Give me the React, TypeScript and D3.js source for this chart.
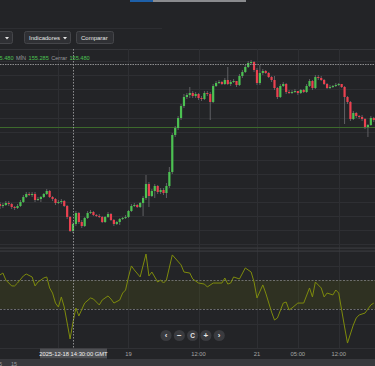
import React, { useEffect, useRef } from 'react';
import * as d3 from 'd3';

// 30 minute candles, first slot = 2025-12-18 02:00 GMT
const firstOpen = 155.56;
const closes = [
  155.54, 155.55, 155.57, 155.56, 155.53, 155.52, 155.54, 155.58, 155.63, 155.66,
  155.65, 155.66, 155.60, 155.61, 155.63, 155.66, 155.69, 155.63, 155.61, 155.57,
  155.58, 155.59, 155.54, 155.43, 155.29, 155.36, 155.47, 155.38, 155.34, 155.42,
  155.47, 155.48, 155.45, 155.44, 155.43, 155.38, 155.43, 155.46, 155.40, 155.36,
  155.38, 155.41, 155.42, 155.43, 155.49, 155.54, 155.55, 155.53, 155.57, 155.62,
  155.76, 155.64, 155.69, 155.74, 155.68, 155.70, 155.67, 155.74, 155.88, 156.25,
  156.32, 156.42, 156.54, 156.63, 156.65, 156.67, 156.64, 156.66, 156.62, 156.61,
  156.67, 156.66, 156.58, 156.74, 156.77, 156.78, 156.76, 156.80, 156.76, 156.78,
  156.79, 156.75, 156.84, 156.88, 156.93, 156.97, 156.98, 156.90, 156.77, 156.87,
  156.89, 156.87, 156.83, 156.80, 156.72, 156.63, 156.74, 156.76, 156.68, 156.67,
  156.68, 156.69, 156.67, 156.70, 156.68, 156.74, 156.79, 156.72, 156.83, 156.82,
  156.80, 156.76, 156.72, 156.73, 156.74, 156.75, 156.76, 156.73, 156.63, 156.58,
  156.41, 156.47, 156.44, 156.43, 156.41, 156.33, 156.35, 156.42, 156.40,
];
const highs = [
  155.58, 155.57, 155.59, 155.59, 155.57, 155.54, 155.56, 155.60, 155.65, 155.68,
  155.68, 155.68, 155.68, 155.63, 155.64, 155.67, 155.71, 155.70, 155.64, 155.62,
  155.60, 155.61, 155.60, 155.55, 155.44, 155.38, 155.49, 155.48, 155.40, 155.43,
  155.49, 155.50, 155.49, 155.46, 155.46, 155.44, 155.44, 155.48, 155.47, 155.41,
  155.39, 155.42, 155.43, 155.45, 155.50, 155.56, 155.57, 155.56, 155.58, 155.64,
  155.85, 155.78, 155.71, 155.76, 155.75, 155.72, 155.72, 155.77, 155.93, 156.27,
  156.34, 156.44, 156.56, 156.66, 156.67, 156.73, 156.69, 156.68, 156.67, 156.64,
  156.69, 156.69, 156.68, 156.76, 156.79, 156.80, 156.79, 156.82, 156.93, 156.80,
  156.81, 156.79, 156.86, 156.90, 156.95, 156.99, 157.00, 156.99, 156.92, 156.95,
  156.91, 156.90, 156.88, 156.84, 156.84, 156.73, 156.76, 156.78, 156.77, 156.70,
  156.70, 156.71, 156.69, 156.71, 156.71, 156.76, 156.81, 156.80, 156.85, 156.85,
  156.84, 156.81, 156.77, 156.75, 156.75, 156.77, 156.77, 156.76, 156.74, 156.64,
  156.59, 156.49, 156.48, 156.45, 156.45, 156.42, 156.36, 156.44, 156.43,
];
const lows = [
  155.51, 155.52, 155.54, 155.54, 155.51, 155.50, 155.51, 155.53, 155.57, 155.62,
  155.64, 155.63, 155.58, 155.59, 155.58, 155.62, 155.65, 155.62, 155.59, 155.55,
  155.56, 155.56, 155.53, 155.41, 155.28, 155.27, 155.34, 155.36, 155.32, 155.33,
  155.41, 155.46, 155.44, 155.43, 155.42, 155.37, 155.37, 155.42, 155.39, 155.34,
  155.35, 155.35, 155.40, 155.41, 155.42, 155.48, 155.53, 155.52, 155.52, 155.44,
  155.60, 155.53, 155.63, 155.62, 155.66, 155.66, 155.65, 155.62, 155.72, 155.86,
  156.23, 156.30, 156.40, 156.52, 156.61, 156.62, 156.62, 156.62, 156.60, 156.59,
  156.60, 156.64, 156.40, 156.57, 156.73, 156.76, 156.75, 156.75, 156.75, 156.74,
  156.77, 156.73, 156.74, 156.82, 156.87, 156.92, 156.96, 156.88, 156.75, 156.75,
  156.85, 156.86, 156.82, 156.78, 156.70, 156.61, 156.62, 156.73, 156.66, 156.66,
  156.66, 156.67, 156.65, 156.66, 156.67, 156.67, 156.73, 156.70, 156.71, 156.80,
  156.79, 156.75, 156.71, 156.71, 156.72, 156.73, 156.74, 156.72, 156.36, 156.56,
  156.39, 156.40, 156.42, 156.41, 156.39, 156.31, 156.23, 156.34, 156.38,
];

const lastPrice = 156.33;
const crossPrice = 156.96;
const hoverTime = '2025-12-18T14:30:00Z';
const hoverLabel = '2025-12-18 14:30:00 GMT';

// CCI style oscillator, read per candle slot
const oscSlots = [
  0, 1, 2, 4, 5, 6, 8, 9, 11, 12, 13, 15, 16, 17, 18, 19, 20, 21, 22, 24,
  25, 26, 27, 29, 31, 32, 34, 35, 37, 38, 39, 41, 42, 43, 44, 45, 46, 48, 50, 51,
  52, 54, 55, 56, 57, 59, 62, 63, 65, 66, 68, 70, 71, 73, 76, 77, 78, 79, 80, 82,
  84, 86, 87, 88, 90, 91, 93, 94, 95, 97, 98, 99, 100, 102, 104, 106, 107, 108, 110, 111,
  112, 114, 115, 116, 117, 118, 119, 121, 122, 123, 125, 127, 128,
];
const oscValues = [
  135, 148, 100, 59, 59, 79, 128, 141, 121, 59, 86, 114, 121, 45, 10, -59, -86, -17, -86, -307,
  -190, -93, -148, -59, -24, -31, -72, -38, -10, -31, -59, -38, 10, 31, 121, 197, 169, 121, 279, 128,
  155, 86, 100, 79, 100, 273, 204, 155, 148, 107, 79, 72, 52, 79, 79, 114, 72, 79, 121, 107,
  183, 155, 86, -24, 66, 10, -121, -176, -162, -59, -52, -107, -93, -59, -59, 45, -17, 86, 45, -17,
  10, -3, 31, 10, -107, -224, -335, -210, -162, -141, -128, -72, -59,
];
const oscBand = [-100, 100];

const tickTimes = [
  '2025-12-18T12:00:00Z', '2025-12-19T00:00:00Z', '2025-12-19T12:00:00Z',
  '2025-12-21T22:00:00Z', '2025-12-22T05:00:00Z', '2025-12-22T12:00:00Z',
];
const tickLabels = ['12:00', '19', '12:00', '21', '05:00', '12:00'];

const seriesStart = Date.UTC(2025, 11, 18, 2, 0);
const fridayClose = Date.UTC(2025, 11, 19, 22, 0);
const sundayOpen = Date.UTC(2025, 11, 21, 22, 0);
const slotMs = 30 * 60 * 1000;

function slotOf(iso) {
  const t = new Date(iso).getTime();
  if (t < fridayClose) return (t - seriesStart) / slotMs;
  return (fridayClose - seriesStart) / slotMs + (t - sundayOpen) / slotMs;
}

const W = 375;
const H = 366;
const font = '"Liberation Sans", Arial, sans-serif';

const App = () => {
  const svgRef = useRef(null);

  useEffect(() => {
    const svg = d3.select(svgRef.current);
    svg.selectAll('*').remove();

    const bg = '#232427';
    const gridColor = '#2e2f33';
    const up = '#4cc152';
    const down = '#ea4150';

    svg.append('rect').attr('width', W).attr('height', H).attr('fill', bg);

    // scales
    const x = d3.scaleLinear().domain([0, 128.42]).range([0, W]);
    const y = d3.scaleLinear().domain([157.6, 155.0]).range([0, 260]);
    const yo = d3.scaleLinear().domain([-400, 400]).range([352.5, 236.5]);

    const mainTop = 49;
    const mainBottom = 247;
    const oscTop = 252;
    const oscBottom = 348;

    svg.append('defs').append('clipPath').attr('id', 'mainclip')
      .append('rect').attr('x', 0).attr('y', mainTop).attr('width', W).attr('height', mainBottom - mainTop);
    svg.select('defs').append('clipPath').attr('id', 'oscclip')
      .append('rect').attr('x', 0).attr('y', oscTop).attr('width', W).attr('height', oscBottom - oscTop);

    // top scroll strip
    svg.append('rect').attr('x', 130).attr('y', 0).attr('width', 23).attr('height', 2).attr('fill', '#1d5fa8');
    svg.append('rect').attr('x', 153).attr('y', 0).attr('width', 93).attr('height', 2).attr('fill', '#8a8b8e');
    svg.append('line').attr('x1', 0).attr('x2', 162).attr('y1', 28.5).attr('y2', 28.5).attr('stroke', '#2d2e32');

    // toolbar buttons
    const buttons = [
      { x: -4, w: 16, label: '' },
      { x: 24, w: 46, label: 'Indicadores' },
      { x: 76, w: 37, label: 'Comparar' },
    ];
    buttons.forEach((b, i) => {
      svg.append('rect').attr('x', b.x + 0.5).attr('y', 31.5).attr('width', b.w).attr('height', 12).attr('rx', 2)
        .attr('fill', '#2f3034').attr('stroke', '#45464a');
      if (b.label) {
        svg.append('text').attr('x', b.x + 5).attr('y', 39.8).attr('fill', '#e6e6e6')
          .attr('font-size', 6).attr('font-family', font).text(b.label);
      }
      if (i < 2) {
        const ax = b.x + b.w - 5;
        svg.append('path').attr('d', `M${ax - 2},37 L${ax + 2},37 L${ax},39.5 Z`).attr('fill', '#e6e6e6');
      }
    });

    svg.append('line').attr('x1', 0).attr('x2', W).attr('y1', 49.5).attr('y2', 49.5).attr('stroke', '#35363a');

    // horizontal grid, main panel
    const gridPrices = d3.range(155.16, 157.1, 0.1405);
    svg.append('g').selectAll('line').data(gridPrices).enter().append('line')
      .attr('x1', 0).attr('x2', W)
      .attr('y1', d => Math.round(y(d)) + 0.5).attr('y2', d => Math.round(y(d)) + 0.5)
      .attr('stroke', gridColor);

    // osc panel grid
    svg.append('g').selectAll('line').data([-200, 200]).enter().append('line')
      .attr('x1', 0).attr('x2', W)
      .attr('y1', d => Math.round(yo(d)) + 0.5).attr('y2', d => Math.round(yo(d)) + 0.5)
      .attr('stroke', gridColor);

    // vertical grid at time ticks
    const tickSlots = tickTimes.map(slotOf);
    svg.append('g').selectAll('line').data(tickSlots).enter().append('line')
      .attr('x1', d => Math.round(x(d)) + 0.5).attr('x2', d => Math.round(x(d)) + 0.5)
      .attr('y1', mainTop).attr('y2', oscBottom)
      .attr('stroke', gridColor);

    // panel separator
    svg.append('rect').attr('x', 0).attr('y', 247.5).attr('width', W).attr('height', 1.2).attr('fill', '#3a3b3f');
    svg.append('rect').attr('x', 0).attr('y', 250.5).attr('width', W).attr('height', 1.2).attr('fill', '#3a3b3f');

    // last price line
    svg.append('line').attr('x1', 0).attr('x2', W)
      .attr('y1', Math.round(y(lastPrice)) + 0.5).attr('y2', Math.round(y(lastPrice)) + 0.5)
      .attr('stroke', '#3d6a2c').attr('stroke-width', 1);

    // candles
    const candles = closes.map((c, i) => ({
      i,
      open: i === 0 ? firstOpen : closes[i - 1],
      close: c,
      high: highs[i],
      low: lows[i],
    }));

    const cg = svg.append('g').attr('clip-path', 'url(#mainclip)');
    const bodyW = 2.2;
    cg.selectAll('.wick').data(candles).enter().append('line')
      .attr('class', 'wick')
      .attr('x1', d => x(d.i)).attr('x2', d => x(d.i))
      .attr('y1', d => y(Math.max(d.high, d.open, d.close)))
      .attr('y2', d => y(Math.min(d.low, d.open, d.close)))
      .attr('stroke', '#6e6f72').attr('stroke-width', 0.8);
    cg.selectAll('.body').data(candles).enter().append('rect')
      .attr('class', 'body')
      .attr('x', d => x(d.i) - bodyW / 2)
      .attr('y', d => y(Math.max(d.open, d.close)))
      .attr('width', bodyW)
      .attr('height', d => Math.max(1, Math.abs(y(d.open) - y(d.close))))
      .attr('fill', d => (d.close >= d.open ? up : down));

    // oscillator band
    svg.append('rect').attr('x', 0).attr('y', yo(oscBand[1])).attr('width', W)
      .attr('height', yo(oscBand[0]) - yo(oscBand[1]))
      .attr('fill', '#5f6a10').attr('fill-opacity', 0.2);
    svg.append('g').selectAll('line').data(oscBand).enter().append('line')
      .attr('x1', 0).attr('x2', W)
      .attr('y1', d => Math.round(yo(d)) + 0.5).attr('y2', d => Math.round(yo(d)) + 0.5)
      .attr('stroke', '#7d7e80').attr('stroke-dasharray', '2,1.5').attr('stroke-width', 0.8);

    const oscLine = d3.line()
      .x((d, i) => x(oscSlots[i]))
      .y(d => yo(d));
    svg.append('path').datum(oscValues)
      .attr('clip-path', 'url(#oscclip)')
      .attr('d', oscLine)
      .attr('fill', 'none').attr('stroke', '#7e8b0c').attr('stroke-width', 1);

    // crosshair
    const hx = Math.round(x(slotOf(hoverTime))) + 0.5;
    svg.append('line').attr('x1', hx).attr('x2', hx).attr('y1', mainTop).attr('y2', oscBottom)
      .attr('stroke', '#a8a9ab').attr('stroke-dasharray', '1.5,1.5').attr('stroke-width', 0.8);
    const hy = Math.round(y(crossPrice)) + 0.5;
    svg.append('line').attr('x1', 0).attr('x2', W).attr('y1', hy).attr('y2', hy)
      .attr('stroke', '#a8a9ab').attr('stroke-dasharray', '1.5,1').attr('stroke-width', 0.8);

    // legend
    const legend = [
      { t: '5.480', c: '#4cc152' },
      { t: 'MÍN', c: '#9a9b9d' },
      { t: '155.285', c: '#4cc152' },
      { t: 'Cerrar', c: '#9a9b9d' },
      { t: '155.480', c: '#4cc152' },
    ];
    const lt = svg.append('text').attr('x', -0.5).attr('y', 59.5).attr('font-size', 5.6).attr('font-family', font);
    legend.forEach((l, i) => {
      lt.append('tspan').attr('fill', l.c).attr('dx', i === 0 ? 0 : 2.4).text(l.t);
    });

    // navigation buttons
    const navIcons = ['‹', '−', 'C', '+', '›'];
    const navG = svg.append('g');
    navIcons.forEach((ic, i) => {
      const cx = 166 + i * 13.3;
      navG.append('circle').attr('cx', cx).attr('cy', 335.5).attr('r', 5.6).attr('fill', '#3a3b3f');
      navG.append('text').attr('x', cx).attr('y', 338).attr('text-anchor', 'middle')
        .attr('font-size', ic === 'C' ? 6.5 : 8).attr('font-weight', 'bold').attr('font-family', font)
        .attr('fill', '#e8e8e8').text(ic);
    });

    // x axis strip: labels under the hover box are hidden, as in the live chart
    const hbx = x(slotOf(hoverTime));
    const boxL = hbx - 33;
    const boxR = hbx + 34;
    svg.append('line').attr('x1', 0).attr('x2', W).attr('y1', 348.5).attr('y2', 348.5).attr('stroke', '#303135');
    const visibleTicks = tickSlots
      .map((s, i) => ({ s, label: tickLabels[i] }))
      .filter(d => x(d.s) + 8 < boxL || x(d.s) - 8 > boxR);
    svg.append('g').selectAll('text').data(visibleTicks).enter().append('text')
      .attr('x', d => x(d.s)).attr('y', 355.5).attr('text-anchor', 'middle')
      .attr('font-size', 5.8).attr('font-family', font).attr('fill', '#a3a4a6')
      .text(d => d.label);

    // hover time box
    svg.append('rect').attr('x', boxL).attr('y', 348.5).attr('width', boxR - boxL).attr('height', 10)
      .attr('fill', '#4e4f53');
    svg.append('text').attr('x', hbx + 0.5).attr('y', 355.7).attr('text-anchor', 'middle')
      .attr('font-size', 5.8).attr('font-family', font).attr('fill', '#f0f0f0').text(hoverLabel);

    // bottom navigator strip
    svg.append('rect').attr('x', 0).attr('y', 359).attr('width', W).attr('height', 7).attr('fill', '#38393d');
    svg.append('text').attr('x', -1).attr('y', 366).attr('font-size', 5.5).attr('font-family', font)
      .attr('fill', '#9a9b9d').text('5');
    svg.append('text').attr('x', 11).attr('y', 366).attr('font-size', 5.5).attr('font-family', font)
      .attr('fill', '#9a9b9d').text('15');
  }, []);

  return (
    <svg ref={svgRef} width={W} height={H}
      style={{ position: 'absolute', left: 0, top: 0, display: 'block' }} />
  );
};

export default App;
